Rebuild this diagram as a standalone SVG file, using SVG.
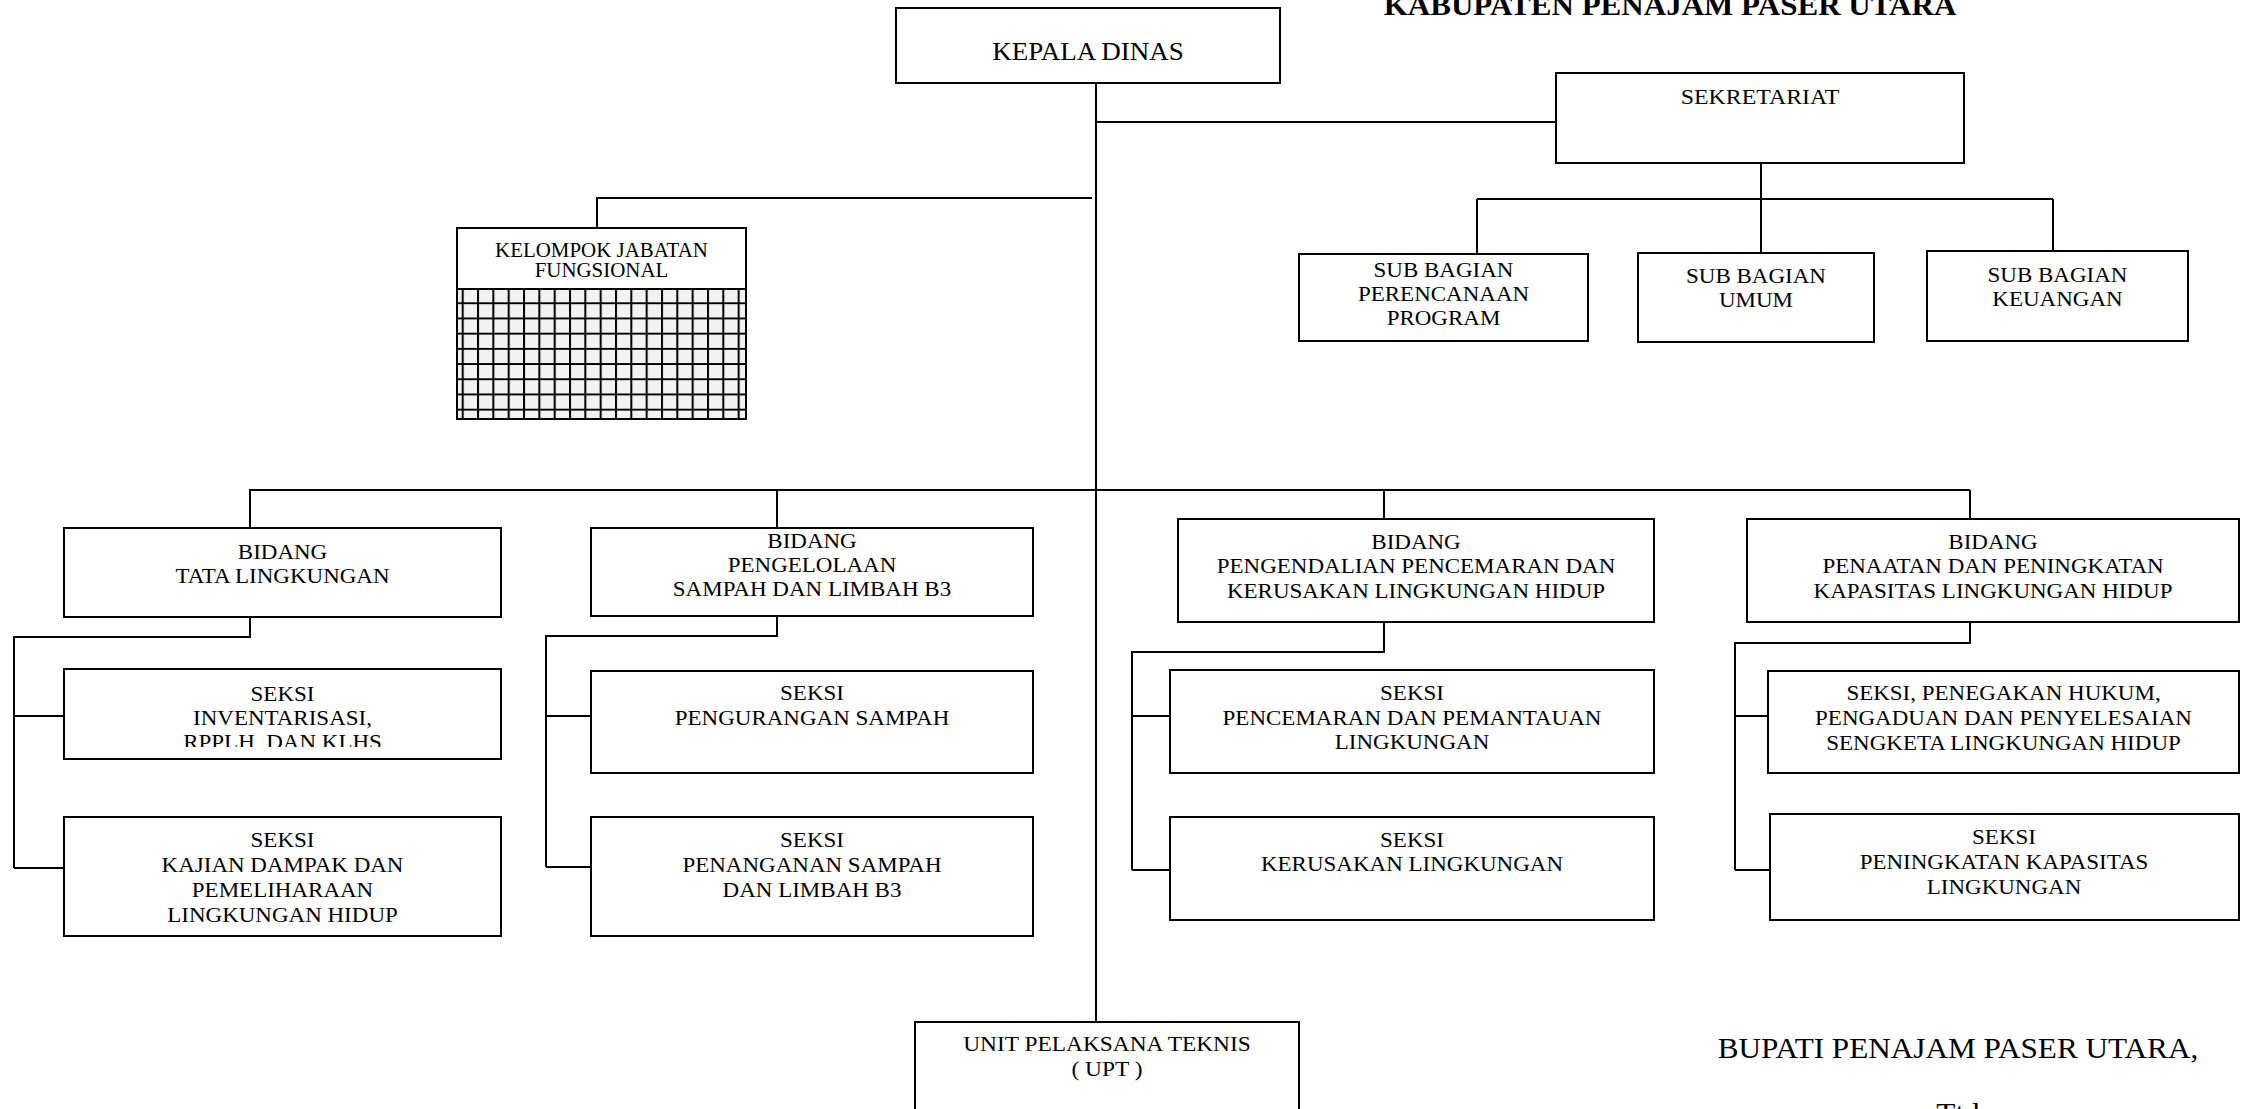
<svg xmlns="http://www.w3.org/2000/svg" width="2247" height="1109" viewBox="0 0 2247 1109">
<style>
.bx{fill:#fff;stroke:#000;stroke-width:2}
.t{font-family:"Liberation Serif","Times New Roman",serif;font-size:20px;text-anchor:middle;fill:#000}
.big{font-size:30px}
.c{fill:none;stroke:#000;stroke-width:2}
</style>
<defs>
<pattern id="grid" x="461.7" y="302.3" width="15.33" height="15.2" patternUnits="userSpaceOnUse">
<rect width="15.33" height="15.2" fill="#f2f2f2"/>
<path d="M1 0V15.2M0 1H15.33" stroke="#000" stroke-width="2"/>
</pattern>
<clipPath id="clipInv"><rect x="64" y="669" width="437" height="78"/></clipPath>
</defs>
<rect width="2247" height="1109" fill="#fff"/>

<g id="connectors">
<path class="c" stroke-width="1.5" d="M1096 83V1022"/>
<path class="c" d="M1096 122H1556"/>
<path class="c" d="M1092 198H597V228"/>
<path class="c" d="M1761 163V199M1477 199H2053M1477 199V254M1761 199V253M2053 199V251"/>
<path class="c" d="M249 490H1970M250 490V528M777 490V528M1384 490V519M1970 490V519"/>
<path class="c" d="M250 617V637H14V868M14 716H64M14 868H64"/>
<path class="c" d="M777 616V636H546V867M546 716H591M546 867H591"/>
<path class="c" d="M1384 622V652H1132V870M1132 716H1170M1132 870H1170"/>
<path class="c" d="M1970 622V643H1735V870M1735 716H1768M1735 870H1770"/>
</g>

<g id="kepala-dinas">
<rect class="bx" x="896" y="8" width="384" height="75"/>
<text class="t" style="font-size:25px" transform="translate(1088 0) scale(1.08 1)" x="0" y="60">KEPALA DINAS</text>
</g>

<g id="sekretariat">
<rect class="bx" x="1556" y="73" width="408" height="90"/>
<text class="t" style="font-size:21px" transform="translate(1760 0) scale(1.136 1)" x="0" y="104">SEKRETARIAT</text>
</g>

<g id="kelompok-jabatan-fungsional">
<rect class="bx" x="457" y="228" width="289" height="191"/>
<rect x="458" y="289" width="287" height="129" fill="url(#grid)"/>
<rect x="457" y="228" width="289" height="191" fill="none" stroke="#000" stroke-width="2"/>
<line x1="457" y1="289" x2="746" y2="289" stroke="#000" stroke-width="2"/>
<text class="t" transform="translate(601.5 0) scale(1.047 1)"><tspan x="0" y="257">KELOMPOK JABATAN</tspan><tspan x="0" y="277">FUNGSIONAL</tspan></text>
</g>

<g id="sub-bagian-perencanaan">
<rect class="bx" x="1299" y="254" width="289" height="87"/>
<text class="t" transform="translate(1443.5 0) scale(1.15 1)"><tspan x="0" y="277">SUB BAGIAN</tspan><tspan x="0" y="301">PERENCANAAN</tspan><tspan x="0" y="325">PROGRAM</tspan></text>
</g>

<g id="sub-bagian-umum">
<rect class="bx" x="1638" y="253" width="236" height="89"/>
<text class="t" transform="translate(1756 0) scale(1.15 1)"><tspan x="0" y="283">SUB BAGIAN</tspan><tspan x="0" y="307">UMUM</tspan></text>
</g>

<g id="sub-bagian-keuangan">
<rect class="bx" x="1927" y="251" width="261" height="90"/>
<text class="t" transform="translate(2057.5 0) scale(1.15 1)"><tspan x="0" y="282">SUB BAGIAN</tspan><tspan x="0" y="306">KEUANGAN</tspan></text>
</g>

<g id="bidang-tata-lingkungan">
<rect class="bx" x="64" y="528" width="437" height="89"/>
<text class="t" transform="translate(282.5 0) scale(1.15 1)"><tspan x="0" y="559">BIDANG</tspan><tspan x="0" y="583">TATA LINGKUNGAN</tspan></text>
</g>

<g id="bidang-pengelolaan">
<rect class="bx" x="591" y="528" width="442" height="88"/>
<text class="t" transform="translate(812 0) scale(1.15 1)"><tspan x="0" y="548">BIDANG</tspan><tspan x="0" y="572">PENGELOLAAN</tspan><tspan x="0" y="596">SAMPAH DAN LIMBAH B3</tspan></text>
</g>

<g id="bidang-pengendalian">
<rect class="bx" x="1178" y="519" width="476" height="103"/>
<text class="t" transform="translate(1416 0) scale(1.15 1)"><tspan x="0" y="549">BIDANG</tspan><tspan x="0" y="573.5">PENGENDALIAN PENCEMARAN DAN</tspan><tspan x="0" y="598">KERUSAKAN LINGKUNGAN HIDUP</tspan></text>
</g>

<g id="bidang-penaatan">
<rect class="bx" x="1747" y="519" width="492" height="103"/>
<text class="t" transform="translate(1993 0) scale(1.15 1)"><tspan x="0" y="549">BIDANG</tspan><tspan x="0" y="573.5">PENAATAN DAN PENINGKATAN</tspan><tspan x="0" y="598">KAPASITAS LINGKUNGAN HIDUP</tspan></text>
</g>

<g id="seksi-inventarisasi">
<rect class="bx" x="64" y="669" width="437" height="90"/>
<g clip-path="url(#clipInv)">
<text class="t" transform="translate(282.5 0) scale(1.15 1)"><tspan x="0" y="701">SEKSI</tspan><tspan x="0" y="725">INVENTARISASI,</tspan><tspan x="0" y="749">RPPLH, DAN KLHS</tspan></text>
</g>
</g>

<g id="seksi-kajian-dampak">
<rect class="bx" x="64" y="817" width="437" height="119"/>
<text class="t" transform="translate(282.5 0) scale(1.15 1)"><tspan x="0" y="847">SEKSI</tspan><tspan x="0" y="872">KAJIAN DAMPAK DAN</tspan><tspan x="0" y="897">PEMELIHARAAN</tspan><tspan x="0" y="922">LINGKUNGAN HIDUP</tspan></text>
</g>

<g id="seksi-pengurangan-sampah">
<rect class="bx" x="591" y="671" width="442" height="102"/>
<text class="t" transform="translate(812 0) scale(1.15 1)"><tspan x="0" y="700">SEKSI</tspan><tspan x="0" y="725">PENGURANGAN SAMPAH</tspan></text>
</g>

<g id="seksi-penanganan-sampah">
<rect class="bx" x="591" y="817" width="442" height="119"/>
<text class="t" transform="translate(812 0) scale(1.15 1)"><tspan x="0" y="847">SEKSI</tspan><tspan x="0" y="872">PENANGANAN SAMPAH</tspan><tspan x="0" y="897">DAN LIMBAH B3</tspan></text>
</g>

<g id="seksi-pencemaran">
<rect class="bx" x="1170" y="670" width="484" height="103"/>
<text class="t" transform="translate(1412 0) scale(1.15 1)"><tspan x="0" y="700">SEKSI</tspan><tspan x="0" y="725">PENCEMARAN DAN PEMANTAUAN</tspan><tspan x="0" y="749">LINGKUNGAN</tspan></text>
</g>

<g id="seksi-kerusakan">
<rect class="bx" x="1170" y="817" width="484" height="103"/>
<text class="t" transform="translate(1412 0) scale(1.15 1)"><tspan x="0" y="847">SEKSI</tspan><tspan x="0" y="871">KERUSAKAN LINGKUNGAN</tspan></text>
</g>

<g id="seksi-penegakan-hukum">
<rect class="bx" x="1768" y="671" width="471" height="102"/>
<text class="t" transform="translate(2003.5 0) scale(1.15 1)"><tspan x="0" y="700">SEKSI, PENEGAKAN HUKUM,</tspan><tspan x="0" y="725">PENGADUAN DAN PENYELESAIAN</tspan><tspan x="0" y="750">SENGKETA LINGKUNGAN HIDUP</tspan></text>
</g>

<g id="seksi-peningkatan-kapasitas">
<rect class="bx" x="1770" y="814" width="469" height="106"/>
<text class="t" transform="translate(2004 0) scale(1.15 1)"><tspan x="0" y="844">SEKSI</tspan><tspan x="0" y="869">PENINGKATAN KAPASITAS</tspan><tspan x="0" y="894">LINGKUNGAN</tspan></text>
</g>

<g id="upt">
<rect class="bx" x="915" y="1022" width="384" height="100"/>
<text class="t" transform="translate(1107 0) scale(1.17 1)"><tspan x="0" y="1051">UNIT PELAKSANA TEKNIS</tspan><tspan x="0" y="1076">( UPT )</tspan></text>
</g>

<g id="labels">
<text class="t big" style="font-weight:bold" transform="translate(1670 0) scale(1.035 1)" x="0" y="14.5">KABUPATEN PENAJAM PASER UTARA</text>
<text class="t big" transform="translate(1958 0) scale(1.04 1)" x="0" y="1058">BUPATI PENAJAM PASER UTARA,</text>
<text class="t big" transform="translate(1958 0) scale(1.04 1)" x="0" y="1123">Ttd</text>
</g>
</svg>
